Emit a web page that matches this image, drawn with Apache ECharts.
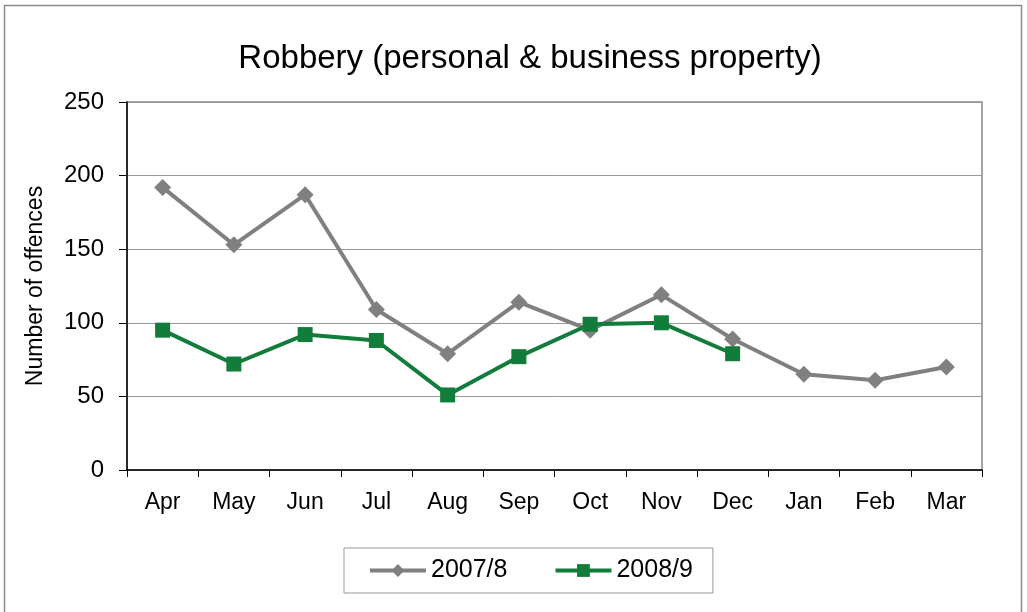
<!DOCTYPE html>
<html>
<head>
<meta charset="utf-8">
<script src="https://cdn.jsdelivr.net/npm/echarts@6/dist/echarts.min.js"></script>
<style>html,body{margin:0;padding:0;background:#fff}#c{width:1027px;height:612px}</style>
</head>
<body>
<div id="c"></div>
<script>
const months = ['Apr','May','Jun','Jul','Aug','Sep','Oct','Nov','Dec','Jan','Feb','Mar'];
const s2007 = [192,153,187,109,79,114,95,119,89,65,61,70];
const s2008 = [95,72,92,88,51,77,99,100,79];
const seriesNames = ['2007/8','2008/9'];

const chart = echarts.init(document.getElementById('c'));
const font = 'Liberation Sans, Arial, sans-serif';
chart.setOption({
  animation: false,
  backgroundColor: '#fff',
  title: {
    text: 'Robbery (personal & business property)',
    left: 525, textAlign: 'center', top: 37,
    textStyle: {fontFamily: font, fontSize: 33, fontWeight: 'normal', color: '#000'}
  },
  graphic: [{
    type: 'rect', shape: {x: 4.5, y: 5.5, width: 1017, height: 640},
    style: {fill: 'none', stroke: '#8c8c8c', lineWidth: 1.5}, silent: true
  }],
  grid: {left: 127, right: 45, top: 102, bottom: 142, show: true, borderColor: '#888', borderWidth: 1.5},
  legend: {
    data: seriesNames,
    left: 344, top: 548, width: 367, height: 46,
    padding: [10, 20, 10, 24],
    borderColor: '#999', borderWidth: 1,
    itemWidth: 56, itemHeight: 16, itemGap: 46,
    lineStyle: {width: 4},
    textStyle: {fontFamily: font, fontSize: 25, color: '#000'}
  },
  xAxis: {
    type: 'category', data: months, boundaryGap: true,
    axisLine: {lineStyle: {color: '#000', width: 1.5}},
    axisTick: {show: true, length: 7, lineStyle: {color: '#000'}},
    axisLabel: {fontFamily: font, fontSize: 23, color: '#000', margin: 21}
  },
  yAxis: {
    type: 'value', min: 0, max: 250, interval: 50,
    name: 'Number of offences', nameLocation: 'middle', nameGap: 80, nameRotate: 90,
    nameTextStyle: {fontFamily: font, fontSize: 23, color: '#000'},
    axisLine: {show: true, lineStyle: {color: '#000', width: 1.5}},
    axisTick: {show: true, length: 8, inside: false, lineStyle: {color: '#000'}},
    axisLabel: {fontFamily: font, fontSize: 24, color: '#000', margin: 23},
    splitLine: {lineStyle: {color: '#999', width: 1}}
  },
  series: [
    {name: seriesNames[0], type: 'line', data: s2007, symbol: 'diamond', symbolSize: 17,
     color: '#808080', lineStyle: {width: 4, color: '#808080'}, itemStyle: {color: '#808080'}},
    {name: seriesNames[1], type: 'line', data: s2008, symbol: 'rect', symbolSize: 15,
     color: '#127c3b', lineStyle: {width: 4, color: '#127c3b'}, itemStyle: {color: '#127c3b'}, z: 3}
  ]
});
</script>
</body>
</html>
